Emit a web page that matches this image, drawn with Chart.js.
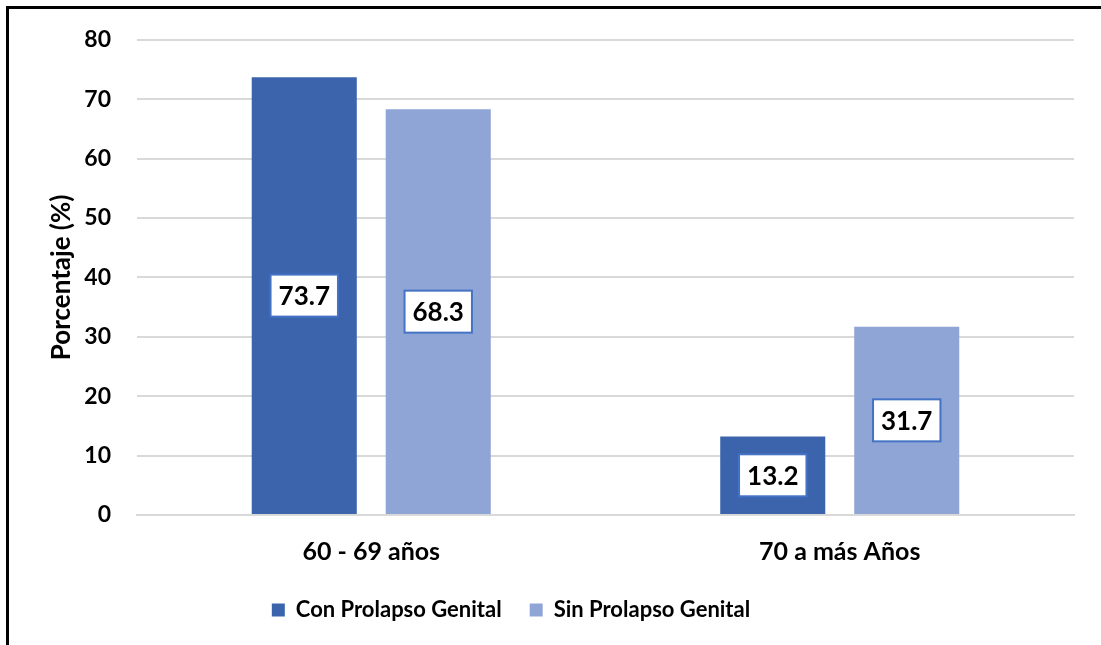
<!DOCTYPE html>
<html>
<head>
<meta charset="utf-8">
<script src="https://cdn.jsdelivr.net/npm/chart.js@4.4.0/dist/chart.umd.min.js"></script>
<style>
  html, body { margin: 0; padding: 0; background: #ffffff; }
  #wrap { position: relative; width: 1101px; height: 645px; }
</style>
</head>
<body>
<div id="wrap"><canvas id="myChart" width="1101" height="645"></canvas></div>
<script>
const categorias = ['60 - 69 años', '70 a más Años'];
const conProlapso = [73.7, 13.2];
const sinProlapso = [68.3, 31.7];
const ticksY = [0, 10, 20, 30, 40, 50, 60, 70, 80];

const FONT = 'Lato, Carlito, Calibri, sans-serif';

// marco negro (solo se ven los lados izquierdo y superior)
const marco = {
    id: 'marco',
    afterDraw(chart) {
        const ctx = chart.ctx;
        ctx.save();
        ctx.strokeStyle = '#000000';
        ctx.lineWidth = 3;
        ctx.beginPath();
        ctx.moveTo(7.5, chart.height + 5);
        ctx.lineTo(7.5, 7.5);
        ctx.lineTo(chart.width + 5, 7.5);
        ctx.stroke();
        ctx.restore();
    }
};

// la leyenda del original no está centrada: se corre a la izquierda y arriba
const leyendaIzq = {
    id: 'leyendaIzq',
    afterLayout(chart) {
        chart.legend.left -= 26;
        chart.legend.right -= 26;
        chart.legend.top -= 10;
        chart.legend.bottom -= 10;
    }
};

// etiquetas de valor en cajas blancas con borde azul
const etiquetas = {
    id: 'etiquetas',
    afterDatasetsDraw(chart) {
        const ctx = chart.ctx;
        ctx.save();
        ctx.font = 'bold 26px ' + FONT;
        ctx.textAlign = 'center';
        ctx.textBaseline = 'middle';
        chart.data.datasets.forEach((ds, i) => {
            chart.getDatasetMeta(i).data.forEach((bar, j) => {
                const texto = ds.data[j].toFixed(1);
                const cx = bar.x;
                const cy = (bar.y + bar.base) / 2;
                const w = ctx.measureText(texto).width + 16;
                const h = 42;
                ctx.fillStyle = '#ffffff';
                ctx.fillRect(cx - w / 2, cy - h / 2, w, h);
                ctx.strokeStyle = '#4472C4';
                ctx.lineWidth = 2;
                ctx.strokeRect(cx - w / 2, cy - h / 2, w, h);
                ctx.fillStyle = '#000000';
                ctx.fillText(texto, cx, cy + 1);
            });
        });
        ctx.restore();
    }
};

function renderChart() {
    const ctx = document.getElementById('myChart');

    new Chart(ctx, {
        type: 'bar',
        data: {
            labels: categorias,
            datasets: [{
                label: 'Con Prolapso Genital',
                data: conProlapso,
                backgroundColor: '#3C64AD',
                categoryPercentage: 0.572,
                barPercentage: 0.784
            }, {
                label: 'Sin Prolapso Genital',
                data: sinProlapso,
                backgroundColor: '#8FA5D6',
                categoryPercentage: 0.572,
                barPercentage: 0.784
            }]
        },
        options: {
            responsive: false,
            animation: false,
            layout: {
                padding: { left: 0, right: 27, top: 30, bottom: 4 }
            },
            plugins: {
                legend: {
                    position: 'bottom',
                    labels: {
                        color: '#000000',
                        boxWidth: 13,
                        boxHeight: 13,
                        padding: 28,
                        font: { family: FONT, size: 22, weight: 'bold' }
                    }
                },
                tooltip: { enabled: false }
            },
            scales: {
                x: {
                    grid: { display: false },
                    border: { display: true, color: '#D9D9D9', width: 2 },
                    ticks: {
                        color: '#000000',
                        padding: 14,
                        font: { family: FONT, size: 25, weight: 'bold' }
                    }
                },
                y: {
                    min: 0,
                    max: 80,
                    afterBuildTicks(scale) {
                        scale.ticks = ticksY.map(v => ({ value: v }));
                    },
                    afterFit(scale) {
                        scale.width = 137;
                    },
                    grid: { color: '#D9D9D9', lineWidth: 2, drawTicks: false },
                    border: { display: false },
                    ticks: {
                        color: '#000000',
                        padding: 26,
                        font: { family: FONT, size: 23, weight: 'bold' }
                    },
                    title: {
                        display: true,
                        text: 'Porcentaje (%)',
                        color: '#000000',
                        padding: { top: 46, bottom: 0 },
                        font: { family: FONT, size: 26, weight: 'bold' }
                    }
                }
            }
        },
        plugins: [marco, leyendaIzq, etiquetas]
    });
}

renderChart();
</script>
</body>
</html>
